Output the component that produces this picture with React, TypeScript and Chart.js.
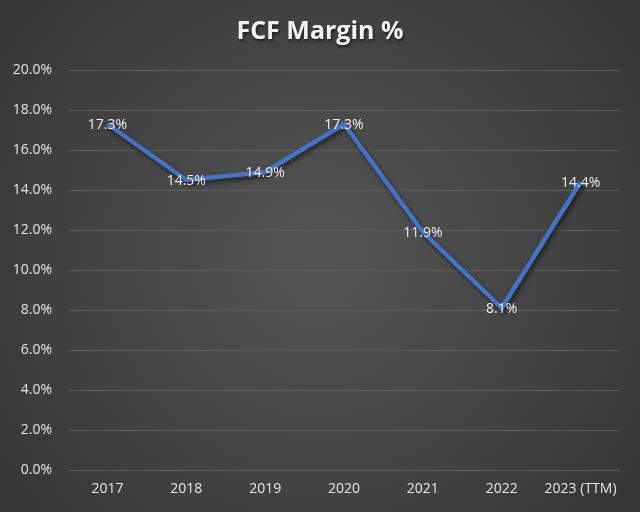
import React, { useEffect, useRef } from "react";
import { Chart, registerables } from "chart.js";

Chart.register(...registerables);

const categories = ["2017", "2018", "2019", "2020", "2021", "2022", "2023 (TTM)"];
const fcfMargin = [17.3, 14.5, 14.9, 17.3, 11.9, 8.1, 14.4];
const chartTitle = "FCF Margin %";

const bgPlugin = {
  id: "bg",
  beforeDraw(chart: any) {
    const { ctx, width, height } = chart;
    ctx.save();
    const g = ctx.createRadialGradient(width / 2, height / 2, 0, width / 2, height / 2, Math.max(width, height) * 0.7);
    g.addColorStop(0, "#555555");
    g.addColorStop(1, "#323232");
    ctx.fillStyle = g;
    ctx.fillRect(0, 0, width, height);
    ctx.font = "bold 25px 'Open Sans', sans-serif";
    ctx.textAlign = "center";
    ctx.textBaseline = "middle";
    ctx.shadowColor = "rgba(0,0,0,0.6)";
    ctx.shadowBlur = 3;
    ctx.shadowOffsetX = 1;
    ctx.shadowOffsetY = 2;
    ctx.fillStyle = "#f2f2f2";
    ctx.fillText(chartTitle, width / 2, 32);
    ctx.restore();
  },
  beforeDatasetsDraw(chart: any) {
    const ctx = chart.ctx;
    ctx.save();
    ctx.shadowColor = "rgba(0,0,0,0.55)";
    ctx.shadowBlur = 4;
    ctx.shadowOffsetX = 2;
    ctx.shadowOffsetY = 3;
  },
  afterDatasetsDraw(chart: any) {
    const ctx = chart.ctx;
    ctx.restore();
    ctx.save();
    const meta = chart.getDatasetMeta(0);
    ctx.font = "14px 'Open Sans', sans-serif";
    ctx.fillStyle = "#eeeeee";
    ctx.textAlign = "center";
    ctx.textBaseline = "middle";
    meta.data.forEach((pt: any, i: number) => {
      ctx.fillText(fcfMargin[i].toFixed(1) + "%", pt.x, pt.y + 1);
    });
    ctx.restore();
  },
};

export default function App() {
  const ref = useRef<HTMLCanvasElement>(null);
  useEffect(() => {
    document.body.style.margin = "0";
    const chart = new Chart(ref.current!, {
      type: "line",
      data: {
        labels: categories,
        datasets: [
          {
            data: fcfMargin,
            borderColor: "#4472C4",
            borderWidth: 4.5,
            pointRadius: 0,
            tension: 0,
            fill: false,
          },
        ],
      },
      options: {
        responsive: false,
        animation: false,
        layout: { padding: { top: 70, right: 20, left: 0, bottom: 0 } },
        plugins: { legend: { display: false }, tooltip: { enabled: false }, title: { display: false } },
        scales: {
          x: {
            offset: true,
            grid: { display: false, drawTicks: false },
            border: { display: false },
            ticks: { color: "#e6e6e6", font: { size: 14, family: "'Open Sans', sans-serif" }, padding: 11, maxRotation: 0, autoSkip: false },
            afterFit(scale: any) {
              scale.height = 42;
            },
          },
          y: {
            min: 0,
            max: 20,
            grid: { color: "#5e5e5e", lineWidth: 1, drawTicks: false },
            border: { display: false },
            ticks: {
              stepSize: 2,
              color: "#e6e6e6",
              font: { size: 14, family: "'Open Sans', sans-serif" },
              padding: 16,
              callback: (v: any) => Number(v).toFixed(1) + "%",
            },
            afterFit(scale: any) {
              scale.width = 68;
            },
          },
        },
      },
      plugins: [bgPlugin],
    });
    return () => chart.destroy();
  }, []);
  return <canvas ref={ref} width={640} height={512} style={{ display: "block" }} />;
}
